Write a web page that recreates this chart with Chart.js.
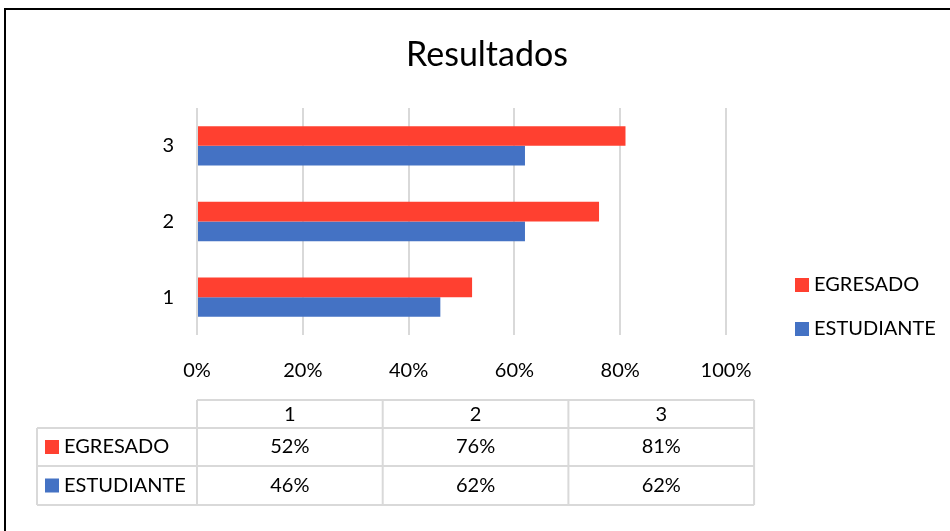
<!DOCTYPE html>
<html>
<head>
<meta charset="utf-8">
<script src="https://cdn.jsdelivr.net/npm/chart.js@4.4.1/dist/chart.umd.min.js"></script>
<style>
  body { margin: 0; background: #fff; }
  #wrap { width: 950px; height: 531px; }
</style>
</head>
<body>
<div id="wrap"><canvas id="chart" width="950" height="531"></canvas></div>
<script>
var categories = ['1', '2', '3'];
var egresado = [52, 76, 81];
var estudiante = [46, 62, 62];
var seriesNames = ['EGRESADO', 'ESTUDIANTE'];
var seriesColors = ['#FF4030', '#4472C4'];
var chartTitle = 'Resultados';

var FONT = "Lato, 'Noto Sans', sans-serif";

// frame round the whole chart, plus the title centred on the page
var framePlugin = {
    id: 'frame',
    beforeDraw: function(chart) {
        var ctx = chart.ctx;
        ctx.save();
        ctx.fillStyle = '#fff';
        ctx.fillRect(0, 0, chart.width, chart.height);
        ctx.strokeStyle = '#000';
        ctx.lineWidth = 2;
        ctx.strokeRect(5, 9, chart.width + 10, chart.height + 10);
        ctx.fillStyle = '#000';
        ctx.font = '34px ' + FONT;
        ctx.textAlign = 'center';
        ctx.textBaseline = 'middle';
        ctx.fillText(chartTitle, 487, 55);
        ctx.restore();
    }
};

// legend on the right, taken from the datasets
var sideLegend = {
    id: 'sideLegend',
    afterDraw: function(chart) {
        var ctx = chart.ctx;
        ctx.save();
        ctx.font = '20px ' + FONT;
        ctx.textBaseline = 'middle';
        chart.data.datasets.forEach(function(ds, i) {
            var y = 285 + i * 44;
            ctx.fillStyle = ds.backgroundColor;
            ctx.fillRect(795, y - 7, 14, 14);
            ctx.fillStyle = '#000';
            ctx.fillText(ds.label, 814, y);
        });
        ctx.restore();
    }
};

// data table under the x axis
var dataTable = {
    id: 'dataTable',
    afterDraw: function(chart) {
        var ctx = chart.ctx;
        var left = 37, first = chart.chartArea.left, colW = 185.7;
        var rows = [400, 428, 466, 505];
        var right = first + colW * categories.length;
        ctx.save();
        ctx.strokeStyle = '#d9d9d9';
        ctx.lineWidth = 2;
        ctx.beginPath();
        ctx.moveTo(first, rows[0]); ctx.lineTo(right, rows[0]);
        for (var r = 1; r < rows.length; r++) {
            ctx.moveTo(left, rows[r]); ctx.lineTo(right, rows[r]);
        }
        ctx.moveTo(left, rows[1]); ctx.lineTo(left, rows[3]);
        for (var c = 0; c <= categories.length; c++) {
            ctx.moveTo(first + c * colW, rows[0]); ctx.lineTo(first + c * colW, rows[3]);
        }
        ctx.stroke();

        ctx.font = '20px ' + FONT;
        ctx.textBaseline = 'middle';
        ctx.fillStyle = '#000';
        ctx.textAlign = 'center';
        categories.forEach(function(cat, i) {
            ctx.fillText(cat, first + colW * (i + 0.5), (rows[0] + rows[1]) / 2 + 1);
        });
        chart.data.datasets.forEach(function(ds, d) {
            var y = (rows[d + 1] + rows[d + 2]) / 2;
            ctx.fillStyle = ds.backgroundColor;
            ctx.fillRect(45, y - 7, 14, 14);
            ctx.fillStyle = '#000';
            ctx.textAlign = 'left';
            ctx.fillText(ds.label, 64, y);
            ctx.textAlign = 'center';
            ds.data.forEach(function(v, i) {
                ctx.fillText(v + '%', first + colW * (i + 0.5), y);
            });
        });
        ctx.restore();
    }
};

var ctx = document.getElementById('chart').getContext('2d');
var chart = new Chart(ctx, {
    type: 'bar',
    data: {
        labels: categories,
        datasets: [
            { label: seriesNames[0], data: egresado, backgroundColor: seriesColors[0] },
            { label: seriesNames[1], data: estudiante, backgroundColor: seriesColors[1] }
        ]
    },
    options: {
        indexAxis: 'y',
        responsive: false,
        animation: false,
        layout: { padding: { left: 0, right: 224, top: 108, bottom: 141 } },
        datasets: {
            bar: { categoryPercentage: 0.52, barPercentage: 1.0, borderWidth: 0 }
        },
        plugins: {
            legend: { display: false },
            tooltip: { enabled: false },
            title: { display: false }
        },
        scales: {
            x: {
                min: 0,
                max: 100,
                ticks: {
                    stepSize: 20,
                    color: '#000',
                    padding: 24,
                    font: { family: FONT, size: 20 },
                    callback: function(v) { return v + '%'; }
                },
                grid: { color: '#d9d9d9', lineWidth: 2, drawTicks: false },
                border: { display: false },
                afterFit: function(scale) { scale.height = 55; }
            },
            y: {
                reverse: true,
                ticks: {
                    color: '#000',
                    padding: 23,
                    font: { family: FONT, size: 20 }
                },
                grid: { display: false, drawTicks: false },
                border: { display: false },
                afterFit: function(scale) { scale.width = 197; }
            }
        }
    },
    plugins: [framePlugin, sideLegend, dataTable]
});
</script>
</body>
</html>
